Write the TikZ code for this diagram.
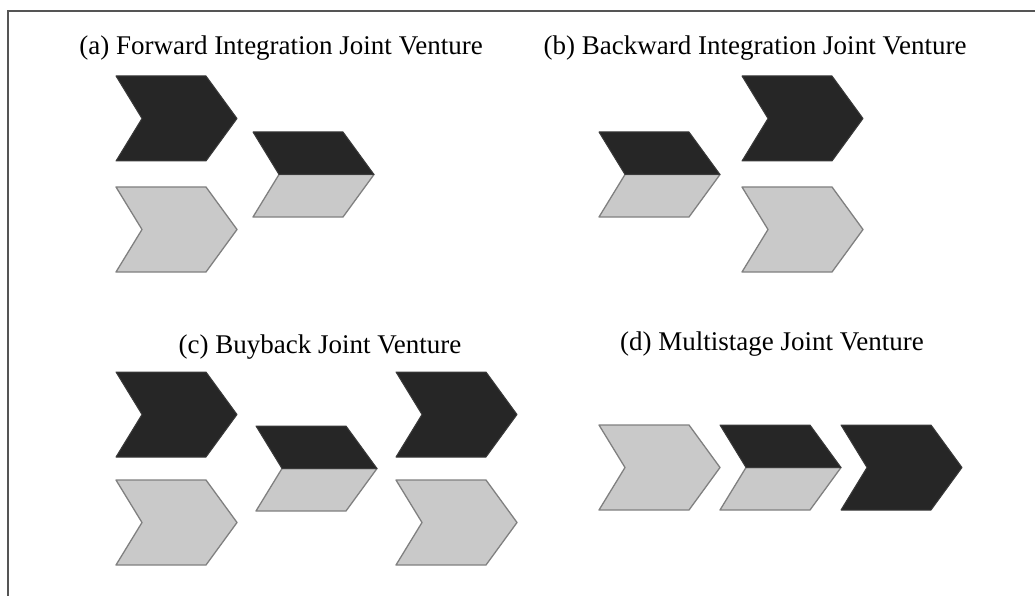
\documentclass[tikz,border=0pt]{standalone}
\usepackage{fontspec}
\setmainfont{Liberation Serif}
\definecolor{darkfill}{HTML}{262626}
\definecolor{darkline}{HTML}{3A3A3A}
\definecolor{lightfill}{HTML}{C9C9C9}
\definecolor{lightline}{HTML}{808080}
\definecolor{framecol}{HTML}{555555}
\tikzset{
  darkpart/.style={fill=darkfill, draw=darkline, line width=1pt, line join=round},
  lightpart/.style={fill=lightfill, draw=lightline, line width=1.3pt, line join=round},
  lbl/.style={anchor=base, inner sep=0pt, font=\fontsize{27}{31}\selectfont},
  frameline/.style={draw=framecol, line width=1.6pt},
  pics/darkchev/.style={code={
    \path[darkpart] (0,0) -- (90,0) -- (121,42.5) -- (90,85) -- (0,85) -- (26,42.5) -- cycle;
  }},
  pics/lightchev/.style={code={
    \path[lightpart] (0,0) -- (90,0) -- (121,42.5) -- (90,85) -- (0,85) -- (26,42.5) -- cycle;
  }},
  pics/splitchev/.style={code={
    \path[lightpart] (26,42.5) -- (121,42.5) -- (90,85) -- (0,85) -- cycle;
    \path[darkpart] (0,0) -- (90,0) -- (121,42.5) -- (26,42.5) -- cycle;
  }},
}
\begin{document}
\begin{tikzpicture}[x=1pt, y=-1pt]
\useasboundingbox (0,0) rectangle (1035,596);
% frame (top and left edges)
\coordinate (ftl) at (8,11);
\coordinate (ftr) at (1035,11);
\coordinate (fbl) at (8,596);
\draw[frameline] (ftr) -- (ftl) -- (fbl);

% labels
\node[lbl] (la) at (281,55) {(a) Forward Integration Joint Venture};
\node[lbl] (lb) at (755,55) {(b) Backward Integration Joint Venture};
\node[lbl] (lc) at (320,353) {(c) Buyback Joint Venture};
\node[lbl] (ld) at (772,350) {(d) Multistage Joint Venture};

% (a) forward integration
\pic at (116,76) {darkchev};
\pic at (116,187) {lightchev};
\pic at (253,132) {splitchev};

% (b) backward integration
\pic at (599,132) {splitchev};
\pic at (742,76) {darkchev};
\pic at (742,187) {lightchev};

% (c) buyback
\pic at (116,372) {darkchev};
\pic at (116,480) {lightchev};
\pic at (256,426) {splitchev};
\pic at (396,372) {darkchev};
\pic at (396,480) {lightchev};

% (d) multistage
\pic at (599,425) {lightchev};
\pic at (720,425) {splitchev};
\pic at (841,425) {darkchev};
\end{tikzpicture}
\end{document}
